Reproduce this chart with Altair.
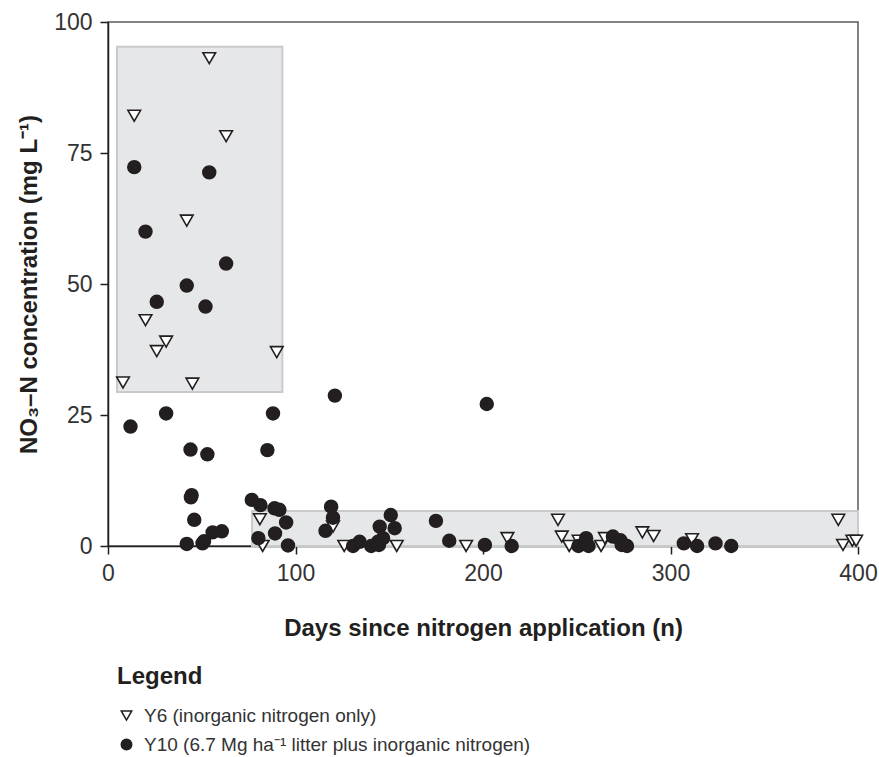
import altair as alt
import pandas as pd

# Series labels
Y6_LABEL = "Y6 (inorganic nitrogen only)"
Y10_LABEL = "Y10 (6.7 Mg ha⁻¹ litter plus inorganic nitrogen)"

# Y6: days since application and NO3-N concentration (mg/L)
y6_days = [54, 14, 63, 42, 20, 31, 26, 90, 8, 45, 81, 82.5, 120, 126, 154, 191,
           213, 240, 242, 246, 251, 263, 265, 285, 291, 311.5, 389.5, 392, 397, 399]
y6_conc = [93.1, 82.1, 78.2, 62.1, 43.1, 39.0, 37.2, 37.0, 31.2, 31.0, 5.1, 0.0, 3.7, 0.0, 0.0, 0.0,
           1.5, 5.0, 1.8, 0.0, 1.0, 0.0, 1.5, 2.6, 1.9, 1.3, 5.0, 0.2, 1.0, 1.0]

# Y10: days since application and NO3-N concentration (mg/L)
y10_days = [14, 54, 20, 63, 42, 26, 52, 31, 88, 12, 44, 53, 85, 44.6, 44.2, 46, 42, 50.4,
            51.2, 55.8, 60.7, 76.7, 81.3, 88.8, 91.4, 95, 80.2, 89.1, 96, 121, 202, 119, 120,
            116, 130.7, 134.2, 140.4, 144, 146.7, 144.9, 144.5, 150.8, 152.9, 174.9, 182, 201,
            215.3, 250.9, 255, 256.3, 269.3, 273.3, 276.8, 274, 307.1, 314.2, 324, 332.4]
y10_conc = [72.3, 71.3, 60.0, 53.9, 49.7, 46.6, 45.7, 25.3, 25.3, 22.8, 18.4, 17.5, 18.3, 9.7, 9.3, 5.0, 0.4, 0.5,
            0.9, 2.6, 2.8, 8.8, 7.8, 7.2, 6.9, 4.5, 1.5, 2.4, 0.1, 28.7, 27.1, 7.5, 5.4,
            2.9, 0.0, 0.8, 0.0, 0.8, 1.5, 3.7, 0.2, 5.9, 3.4, 4.8, 1.0, 0.2,
            0.0, 0.0, 1.5, 0.0, 1.8, 1.1, 0.0, 0.2, 0.5, 0.0, 0.5, 0.0]

# Shaded regions (days start/end, concentration low/high)
box_x1 = [4.8, 76.8]
box_x2 = [93.0, 400]
box_y1 = [29.4, 0]
box_y2 = [95.3, 6.7]

points = pd.concat([
    pd.DataFrame({"days": y6_days, "conc": y6_conc, "series": Y6_LABEL}),
    pd.DataFrame({"days": y10_days, "conc": y10_conc, "series": Y10_LABEL}),
], ignore_index=True)
boxes = pd.DataFrame({"x1": box_x1, "x2": box_x2, "y1": box_y1, "y2": box_y2})

FONT = "Liberation Sans"
INK = "#231f20"

x_scale = alt.Scale(domain=[0, 400], nice=False, zero=False)
y_scale = alt.Scale(domain=[0, 100], nice=False, zero=False)

shade = alt.Chart(boxes).mark_rect(
    fill="#e6e7e8", stroke="#c9cacb", strokeWidth=2
).encode(
    x=alt.X("x1:Q", scale=x_scale,
            title="Days since nitrogen application (n)",
            axis=alt.Axis(values=[0, 100, 200, 300, 400], grid=False)),
    x2="x2:Q",
    y=alt.Y("y1:Q", scale=y_scale,
            title="NO₃–N concentration (mg L⁻¹)",
            axis=alt.Axis(values=[0, 25, 50, 75, 100], grid=False)),
    y2="y2:Q",
)

series_order = [Y6_LABEL, Y10_LABEL]
legend_def = alt.Legend(title="Legend")

def series_layer(label, size):
    return alt.Chart(points).transform_filter(
        alt.datum.series == label
    ).mark_point(filled=False, opacity=1, strokeWidth=1.6).encode(
        x=alt.X("days:Q", scale=x_scale),
        y=alt.Y("conc:Q", scale=y_scale),
        shape=alt.Shape("series:N", sort=series_order,
                        scale=alt.Scale(domain=series_order, range=["triangle-down", "circle"]),
                        legend=legend_def),
        fill=alt.Fill("series:N", sort=series_order,
                      scale=alt.Scale(domain=series_order, range=["white", INK]),
                      legend=legend_def),
        stroke=alt.Stroke("series:N", sort=series_order,
                          scale=alt.Scale(domain=series_order, range=[INK, INK]),
                          legend=legend_def),
        size=alt.value(size),
    )

chart = alt.layer(
    shade,
    series_layer(Y6_LABEL, 160),
    series_layer(Y10_LABEL, 165),
).properties(
    width=750,
    height=524,
    autosize=alt.AutoSizeParams(type="none"),
    padding={"left": 108, "top": 22, "right": 21, "bottom": 211},
).configure_view(
    stroke="#5a5a5a", strokeWidth=1.5
).configure_axis(
    labelFont=FONT, labelFontSize=23, labelColor="#333333",
    titleFont=FONT, titleFontSize=24, titleFontWeight="bold", titleColor=INK,
    domainColor=INK, domainWidth=1.5, tickColor=INK, tickWidth=1.5, tickSize=8,
    labelPadding=8,
).configure_axisX(
    titlePadding=31, labelFlush=False
).configure_axisY(
    titlePadding=12
).configure_legend(
    orient="none", legendX=9, legendY=643,
    titleFont=FONT, titleFontSize=24, titleFontWeight="bold", titleColor=INK,
    labelFont=FONT, labelFontSize=19, labelColor="#333333",
    symbolSize=110, symbolStrokeWidth=1.5,
    rowPadding=9, titlePadding=17, labelOffset=8, labelLimit=700,
)

chart.save("out.html", embed_options={"renderer": "svg", "actions": False})
